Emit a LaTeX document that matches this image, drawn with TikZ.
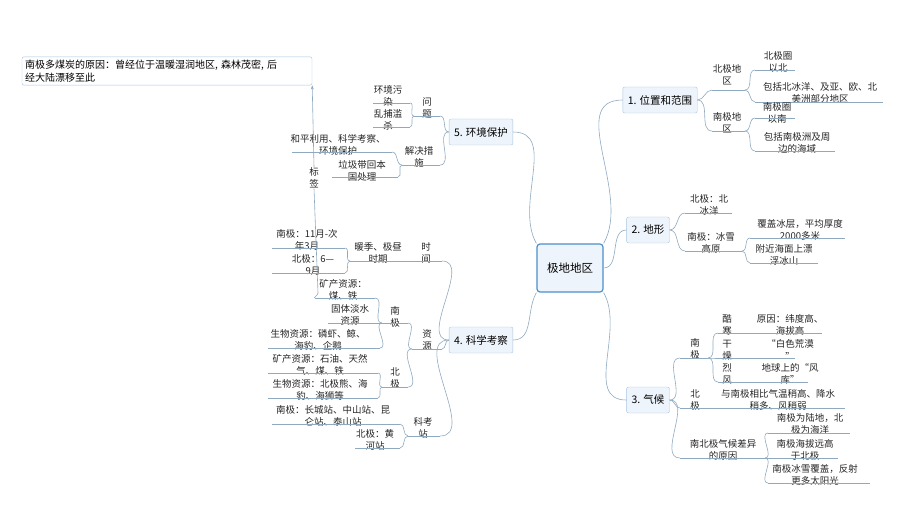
\documentclass[tikz,border=0pt]{standalone}
\usepackage{fontspec}
\setmainfont{Noto Sans CJK SC}
\usepackage{tikz}
\usetikzlibrary{arrows.meta}
\definecolor{linkc}{HTML}{8FA9C0}
\definecolor{boxfill}{HTML}{EEF4FB}
\definecolor{boxdraw}{HTML}{A8C4E0}
\definecolor{rootdraw}{HTML}{4D8FC9}
\newcommand{\leaf}[6]{
	\node[txt] (#1) at (#2) {#3};
	\coordinate (#1-l) at (#4,#6);
	\coordinate (#1-r) at (#5,#6);
	\draw[ul] (#1-l) -- (#1-r);
}
\begin{document}
\begin{tikzpicture}[x=1pt,y=-1pt,
	txt/.style={align=center,inner sep=0pt,font=\fontsize{9.5}{12.5}\selectfont,text=black!85},
	ul/.style={draw=linkc,line width=.6pt},
	link/.style={draw=linkc,line width=.6pt},
	branch/.style={draw=boxdraw,fill=boxfill,rounded corners=2pt,inner sep=5pt,font=\fontsize{10.5}{13}\selectfont,minimum height=26pt},
	root/.style={draw=rootdraw,fill=boxfill,rounded corners=3pt,line width=1.2pt,minimum width=66pt,minimum height=48pt,font=\fontsize{11.5}{14}\selectfont}
]
	\useasboundingbox (0,0) rectangle (920,518);

	% root and branches
	\node[root] (root) at (570,268) {极地地区};
	\node[branch] (pos) at (660,100) {1. 位置和范围};
	\node[branch] (land) at (648,230) {2. 地形};
	\node[branch] (clim) at (648,400) {3. 气候};
	\node[branch] (sci) at (481,340) {4. 科学考察};
	\node[branch] (env) at (481,132) {5. 环境保护};

	\draw[link] (root.north east) to[out=60,in=180] (pos.west);
	\draw[link] (root.east) to[out=0,in=180] (land.west);
	\draw[link] (root.south east) to[out=-60,in=180] (clim.west);
	\draw[link] (root.north west) to[out=120,in=0] (env.east);
	\draw[link] (root.south west) to[out=-120,in=0] (sci.east);

	% 1
	\leaf{np}{727,75}{北极地\\区}{712}{745}{90}
	\leaf{sp}{727,123}{南极地\\区}{712}{745}{131}
	\leaf{npa}{778,62}{北极圈\\以北}{755}{795}{70}
	\leaf{npb}{820,93}{包括北冰洋、及亚、欧、北\\美洲部分地区}{755}{883}{102}
	\leaf{spa}{777,113}{南极圈\\以南}{755}{795}{118}
	\leaf{spb}{797,143}{包括南极洲及周\\边的海域}{755}{835}{151}
	\draw[link] (pos.east) to[out=0,in=180] (np-l);
	\draw[link] (pos.east) to[out=0,in=180] (sp-l);
	\draw[link] (np-r) to[out=0,in=180] (npa-l);
	\draw[link] (np-r) to[out=0,in=180] (npb-l);
	\draw[link] (sp-r) to[out=0,in=180] (spa-l);
	\draw[link] (sp-r) to[out=0,in=180] (spb-l);

	% 2
	\leaf{nl}{709,205}{北极：北\\冰洋}{685}{732}{213}
	\leaf{sl}{711,243}{南极：冰雪\\高原}{685}{742}{251}
	\leaf{sla}{800,230}{覆盖冰层，平均厚度\\2000多米}{750}{845}{238}
	\leaf{slb}{784,255}{附近海面上漂\\浮冰山}{750}{818}{263}
	\draw[link] (land.east) to[out=0,in=180] (nl-l);
	\draw[link] (land.east) to[out=0,in=180] (sl-l);
	\draw[link] (sl-r) to[out=0,in=180] (sla-l);
	\draw[link] (sl-r) to[out=0,in=180] (slb-l);

	% 3
	\leaf{sc}{695,349}{南\\极}{680}{708}{358}
	\leaf{ca}{727,325}{酷\\寒}{718}{735}{333}
	\leaf{cb}{727,350}{干\\燥}{718}{735}{358}
	\leaf{cc}{727,374}{烈\\风}{718}{735}{382}
	\leaf{caa}{790,325}{原因：纬度高、\\海拔高}{735}{822}{333}
	\leaf{cba}{790,350}{“白色荒漠\\”}{735}{795}{358}
	\leaf{cca}{790,374}{地球上的“风\\库”}{735}{808}{382}
	\leaf{nc}{695,400}{北\\极}{680}{708}{408}
	\leaf{nca}{778,400}{与南极相比气温稍高、降水\\稍多、风稍弱}{708}{845}{408}
	\leaf{dc}{723,450}{南北极气候差异\\的原因}{680}{765}{458}
	\leaf{dca}{810,424}{南极为陆地，北\\极为海洋}{768}{850}{433}
	\leaf{dcb}{805,450}{南极海拔远高\\于北极}{768}{838}{458}
	\leaf{dcc}{815,475}{南极冰雪覆盖，反射\\更多太阳光}{768}{870}{483}
	\draw[link] (clim.east) to[out=0,in=180] (sc-l);
	\draw[link] (clim.east) to[out=0,in=180] (nc-l);
	\draw[link] (clim.east) to[out=0,in=180] (dc-l);
	\draw[link] (sc-r) to[out=0,in=180] (ca-l);
	\draw[link] (sc-r) to[out=0,in=180] (cb-l);
	\draw[link] (sc-r) to[out=0,in=180] (cc-l);
	\draw[link] (dc-r) to[out=0,in=180] (dca-l);
	\draw[link] (dc-r) to[out=0,in=180] (dcb-l);
	\draw[link] (dc-r) to[out=0,in=180] (dcc-l);

	% 5
	\leaf{q}{427,108}{问\\题}{414}{440}{116}
	\leaf{qa}{388,96}{环境污\\染}{373}{410}{103}
	\leaf{qb}{388,120}{乱捕滥\\杀}{373}{410}{127}
	\leaf{m}{419,157}{解决措\\施}{402}{440}{165}
	\leaf{ma}{338,145}{和平利用、科学考察、\\环境保护}{292}{392}{152}
	\leaf{mb}{362,171}{垃圾带回本\\国处理}{332}{398}{177}
	\draw[link] (env.west) to[out=180,in=0] (q-r);
	\draw[link] (env.west) to[out=180,in=0] (m-r);
	\draw[link] (q-l) to[out=180,in=0] (qa-r);
	\draw[link] (q-l) to[out=180,in=0] (qb-r);
	\draw[link] (m-l) to[out=180,in=0] (ma-r);
	\draw[link] (m-l) to[out=180,in=0] (mb-r);

	% 4
	\leaf{t}{426,253}{时\\间}{410}{442}{261}
	\leaf{ta}{378,253}{暖季、极昼\\时期}{350}{410}{261}
	\leaf{tas}{307,240}{南极：11月-次\\年3月}{272}{345}{248}
	\leaf{tan}{313,265}{北极：6—\\9月}{272}{345}{273}
	\leaf{r}{427,340}{资\\源}{412}{442}{349}
	\leaf{rs}{395,317}{南\\极}{382}{408}{323}
	\leaf{rsa}{343,290}{矿产资源：\\煤、铁}{315}{375}{298}
	\leaf{rsb}{350,315}{固体淡水\\资源}{328}{380}{323}
	\leaf{rsc}{318,340}{生物资源：磷虾、鲸、\\海豹、企鹅}{268}{380}{348}
	\leaf{rn}{395,378}{北\\极}{382}{408}{387}
	\leaf{rna}{320,365}{矿产资源：石油、天然\\气、煤、铁}{268}{378}{373}
	\leaf{rnb}{320,390}{生物资源：北极熊、海\\豹、海狮等}{268}{378}{398}
	\leaf{k}{423,428}{科考\\站}{408}{440}{436}
	\leaf{ks}{333,416}{南极：长城站、中山站、昆\\仑站、泰山站}{272}{400}{424}
	\leaf{kn}{375,440}{北极：黄\\河站}{355}{400}{448}
	\draw[link] (sci.west) to[out=180,in=0] (t-r);
	\draw[link] (sci.west) to[out=180,in=0] (r-r);
	\draw[link] (sci.west) to[out=180,in=0] (k-r);
	\draw[link] (ta-l) to[out=180,in=0] (tas-r);
	\draw[link] (ta-l) to[out=180,in=0] (tan-r);
	\draw[link] (r-l) to[out=180,in=0] (rs-r);
	\draw[link] (r-l) to[out=180,in=0] (rn-r);
	\draw[link] (rs-l) to[out=180,in=0] (rsa-r);
	\draw[link] (rs-l) to[out=180,in=0] (rsb-r);
	\draw[link] (rs-l) to[out=180,in=0] (rsc-r);
	\draw[link] (rn-l) to[out=180,in=0] (rna-r);
	\draw[link] (rn-l) to[out=180,in=0] (rnb-r);
	\draw[link] (k-l) to[out=180,in=0] (ks-r);
	\draw[link] (k-l) to[out=180,in=0] (kn-r);

	% callout
	\node[draw=boxdraw,fill=white,rounded corners=2pt,align=left,inner sep=3pt,text width=284pt,
		font=\fontsize{10}{13}\selectfont] (note) at (167,71) {南极多煤炭的原因：曾经位于温暖湿润地区, 森林茂密, 后\\经大陆漂移至此};
	\node[txt] (tag) at (314,178) {标\\签};
	\coordinate (tagend) at (318,293);
	\draw[link] (rsa-l) to[out=180,in=-90] (tagend) -- (tag.south);
	\draw[link,-{Stealth[length=4pt]}] (tag.north) -- (note.south east);
\end{tikzpicture}
\end{document}
